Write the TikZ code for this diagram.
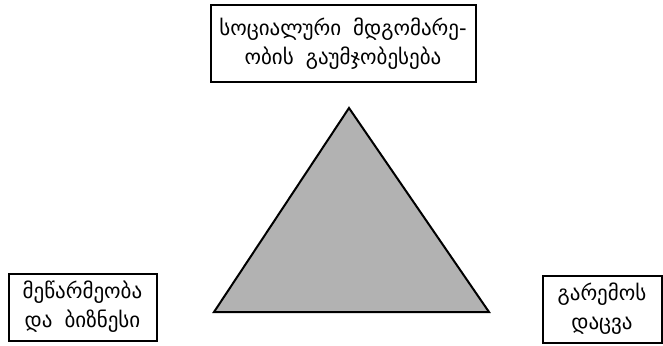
\documentclass[tikz,border=0pt]{standalone}
\usepackage{fontspec}
\newfontfamily\geofont[WordSpace=1.8]{DejaVu Sans}

\tikzset{
  goal/.style={draw, line width=2pt, align=center, inner sep=0pt,
    font=\geofont\fontsize{21}{29}\selectfont},
}

\begin{document}
\begin{tikzpicture}[x=1pt,y=-1pt]
        \useasboundingbox (0,0) rectangle (663,345);
        \coordinate (A) at (349,108);
        \coordinate (B) at (214,312);
        \coordinate (C) at (489,312);
        \draw[line width=2pt, line join=miter, fill=black!30] (A) -- (B) -- (C) -- cycle;
        \node[goal, minimum width=265pt, minimum height=77pt] (social) at (343,43.5) {სოციალური მდგომარე-\\ობის გაუმჯობესება};
        \node[goal, minimum width=148pt, minimum height=67pt] (business) at (82.5,307) {მეწარმეობა\\და ბიზნესი};
        \node[goal, minimum width=119pt, minimum height=67pt] (nature) at (602,309) {გარემოს\\დაცვა};
    \end{tikzpicture}
\end{document}
